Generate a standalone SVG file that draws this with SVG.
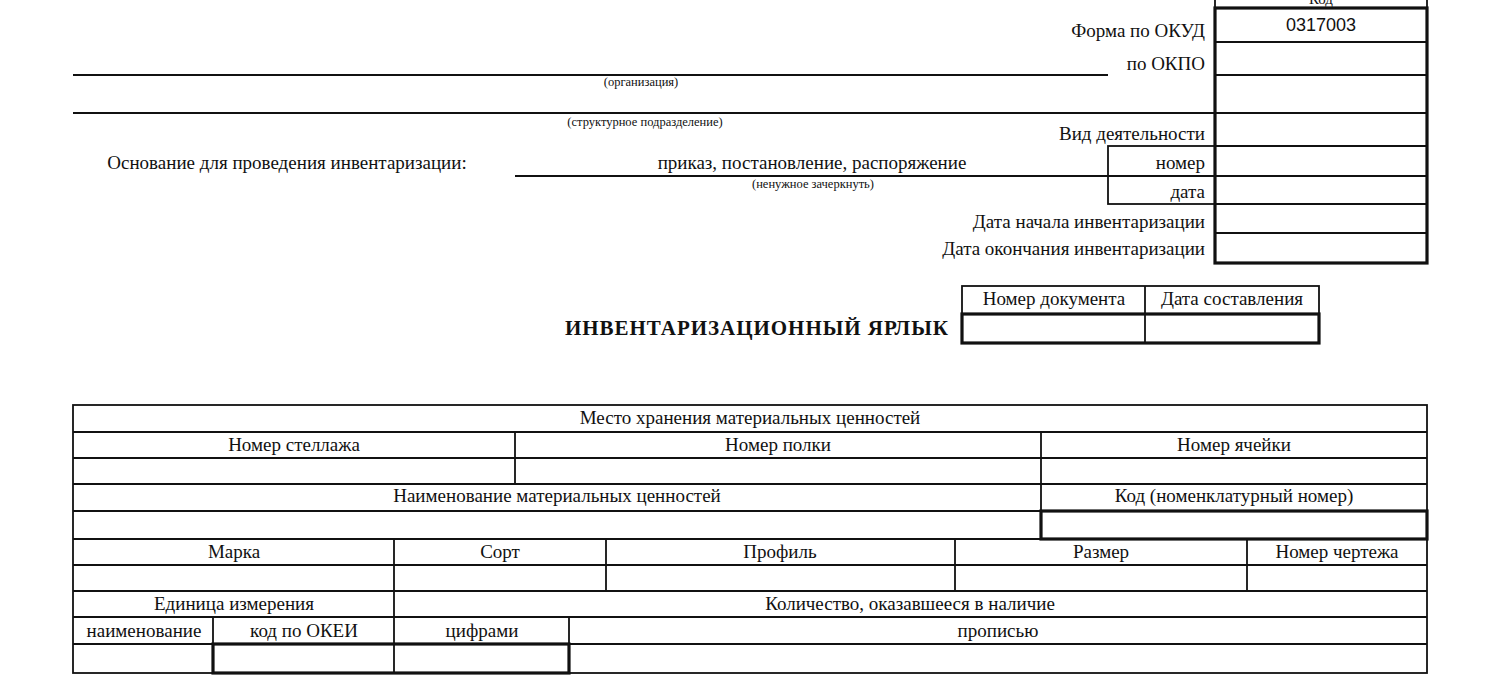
<svg xmlns="http://www.w3.org/2000/svg" width="1500" height="700" viewBox="0 0 1500 700">
<style>
text{font-family:"Liberation Serif","DejaVu Serif",serif;font-size:19px;fill:#111}
.s{font-size:12.5px}.r{text-anchor:end}.m{text-anchor:middle}
.l{stroke:#111;stroke-width:1.8;fill:none}.t{stroke:#111;stroke-width:3.2;fill:none}
</style>
<rect width="1500" height="700" fill="#fff"/>
<g id="codes">
<rect class="l" x="1215" y="-10" width="212" height="18"/>
<text class="m" x="1321" y="4" style="font-size:15px">Код</text>
<rect class="t" x="1215" y="8" width="212" height="255"/>
<path class="l" d="M1215 42H1427M1215 75H1427M1215 113H1427M1215 146H1427M1215 176H1427M1215 204H1427M1215 233H1427"/>
<text class="m" x="1321" y="31" style="font-family:'Liberation Sans',Arial,sans-serif;font-size:18px">0317003</text>
<rect class="l" x="1108" y="146" width="107" height="58"/>
<path class="l" d="M1108 176H1215"/>
<text class="r" x="1205" y="37">Форма по ОКУД</text>
<text class="r" x="1205" y="70">по ОКПО</text>
<text class="r" x="1205" y="140">Вид деятельности</text>
<text class="r" x="1205" y="169">номер</text>
<text class="r" x="1205" y="198">дата</text>
<text class="r" x="1205" y="228">Дата начала инвентаризации</text>
<text class="r" x="1205" y="255">Дата окончания инвентаризации</text>
</g>
<g id="header">
<path class="l" d="M73 75H1108M73 113H1215M515 176H1108"/>
<text class="m s" x="641" y="86">(организация)</text>
<text class="m s" x="645" y="126">(структурное подразделение)</text>
<text class="m" x="287" y="169">Основание для проведения инвентаризации:</text>
<text class="m" x="812" y="169">приказ, постановление, распоряжение</text>
<text class="m s" x="813" y="188">(ненужное зачеркнуть)</text>
</g>
<g id="docnum">
<rect class="l" x="962" y="286" width="357" height="28"/>
<rect class="t" x="962" y="314" width="357" height="29"/>
<path class="l" d="M1145 286V343"/>
<text class="m" x="1054" y="305">Номер документа</text>
<text class="m" x="1232" y="305">Дата составления</text>
<text class="r" x="948" y="335" style="font-weight:bold;font-size:21px" textLength="383">ИНВЕНТАРИЗАЦИОННЫЙ ЯРЛЫК</text>
</g>
<g id="table">
<rect class="l" x="73" y="405" width="1354" height="268"/>
<path class="l" d="M73 432H1427M73 458H1427M73 484H1427M73 511H1427M73 539H1427M73 565H1427M73 591H1427M73 617H1427M73 644H1427"/>
<path class="l" d="M515 432V484M1041 432V511M394 539V673M606 539V591M955 539V591M1247 539V591M213 617V673M569 617V673"/>
<rect class="t" x="1041" y="511" width="386" height="28"/>
<rect class="t" x="213" y="644" width="356" height="29"/>
<text class="m" x="750" y="424">Место хранения материальных ценностей</text>
<text class="m" x="294" y="451">Номер стеллажа</text>
<text class="m" x="778" y="451">Номер полки</text>
<text class="m" x="1234" y="451">Номер ячейки</text>
<text class="m" x="557" y="502">Наименование материальных ценностей</text>
<text class="m" x="1234" y="502">Код (номенклатурный номер)</text>
<text class="m" x="234" y="558">Марка</text>
<text class="m" x="500" y="558">Сорт</text>
<text class="m" x="780" y="558">Профиль</text>
<text class="m" x="1101" y="558">Размер</text>
<text class="m" x="1337" y="558">Номер чертежа</text>
<text class="m" x="234" y="610">Единица измерения</text>
<text class="m" x="910" y="610">Количество, оказавшееся в наличие</text>
<text class="m" x="144" y="637">наименование</text>
<text class="m" x="304" y="637">код по ОКЕИ</text>
<text class="m" x="482" y="637">цифрами</text>
<text class="m" x="998" y="637">прописью</text>
</g>
</svg>
